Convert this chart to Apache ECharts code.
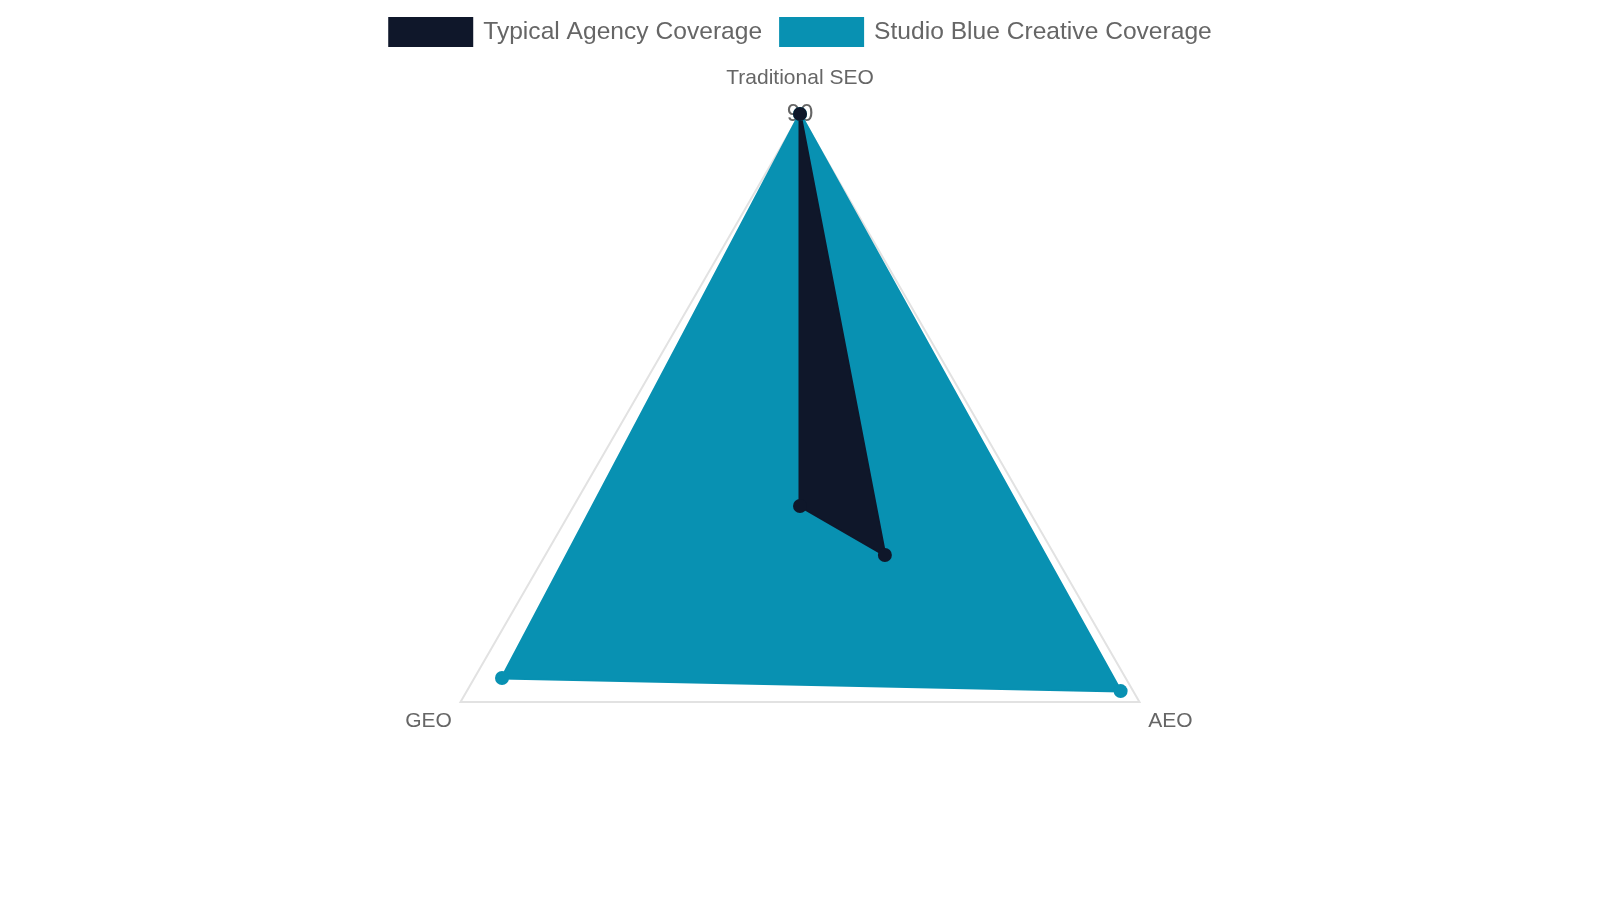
<!DOCTYPE html>
<html>
<head>
<meta charset="utf-8">
<script src="https://cdn.jsdelivr.net/npm/echarts@6/dist/echarts.min.js"></script>
<style>
  html, body { margin: 0; padding: 0; background: #fff; }
  #chart { width: 1600px; height: 900px; }
</style>
</head>
<body>
<div id="chart"></div>
<script>
  const indicatorNames = ["Traditional SEO", "GEO", "AEO"];
  const scaleMax = 90;
  const seriesNames = ["Typical Agency Coverage", "Studio Blue Creative Coverage"];
  const typicalValues = [90, 0, 22.5];
  const studioValues = [90, 79, 85];

  const font = "'Liberation Sans', Arial, Helvetica, sans-serif";
  const chart = echarts.init(document.getElementById("chart"));

  chart.setOption({
    animation: false,
    legend: {
      data: seriesNames,
      top: 12,
      left: "center",
      icon: "rect",
      itemWidth: 85,
      itemHeight: 30,
      itemGap: 17,
      textStyle: { color: "#666", fontSize: 24.6, fontFamily: font, padding: [0, 0, 0, 5] }
    },
    radar: {
      center: ["50%", 506],
      radius: 392,
      shape: "polygon",
      splitNumber: 1,
      nameGap: 10,
      indicator: indicatorNames.map(function (name, i) {
        const item = { name: name, min: 0, max: scaleMax };
        if (i === 0) {
          item.axisLabel = { show: true };
        }
        return item;
      }),
      axisName: {
        color: "#666",
        fontSize: 21,
        fontFamily: font,
        formatter: function (name) {
          return name === indicatorNames[0] ? "{top|" + name + "}" : "{low|" + name + "}";
        },
        rich: {
          top: { fontSize: 21, color: "#666", fontFamily: font, padding: [0, 0, 15, 0] },
          low: { fontSize: 21, color: "#666", fontFamily: font, padding: [28, 0, 0, 0] }
        }
      },
      splitLine: { lineStyle: { color: "#e2e2e2", width: 2 } },
      splitArea: { show: false },
      axisLine: { show: false },
      axisTick: { show: false },
      axisLabel: {
        show: false,
        margin: 0,
        align: "center",
        verticalAlign: "middle",
        color: "#666",
        fontSize: 24,
        fontFamily: font,
        formatter: function (value) {
          return value === scaleMax ? String(value) : "";
        }
      }
    },
    series: [
      {
        type: "radar",
        symbol: "circle",
        symbolSize: 14,
        data: [
          {
            name: seriesNames[1],
            value: studioValues,
            itemStyle: { color: "#0891b2" },
            lineStyle: { color: "#0891b2", width: 3 },
            areaStyle: { color: "#0891b2", opacity: 1 }
          },
          {
            name: seriesNames[0],
            value: typicalValues,
            itemStyle: { color: "#0f172a" },
            lineStyle: { color: "#0f172a", width: 3 },
            areaStyle: { color: "#0f172a", opacity: 1 }
          }
        ]
      }
    ]
  });
</script>
</body>
</html>
